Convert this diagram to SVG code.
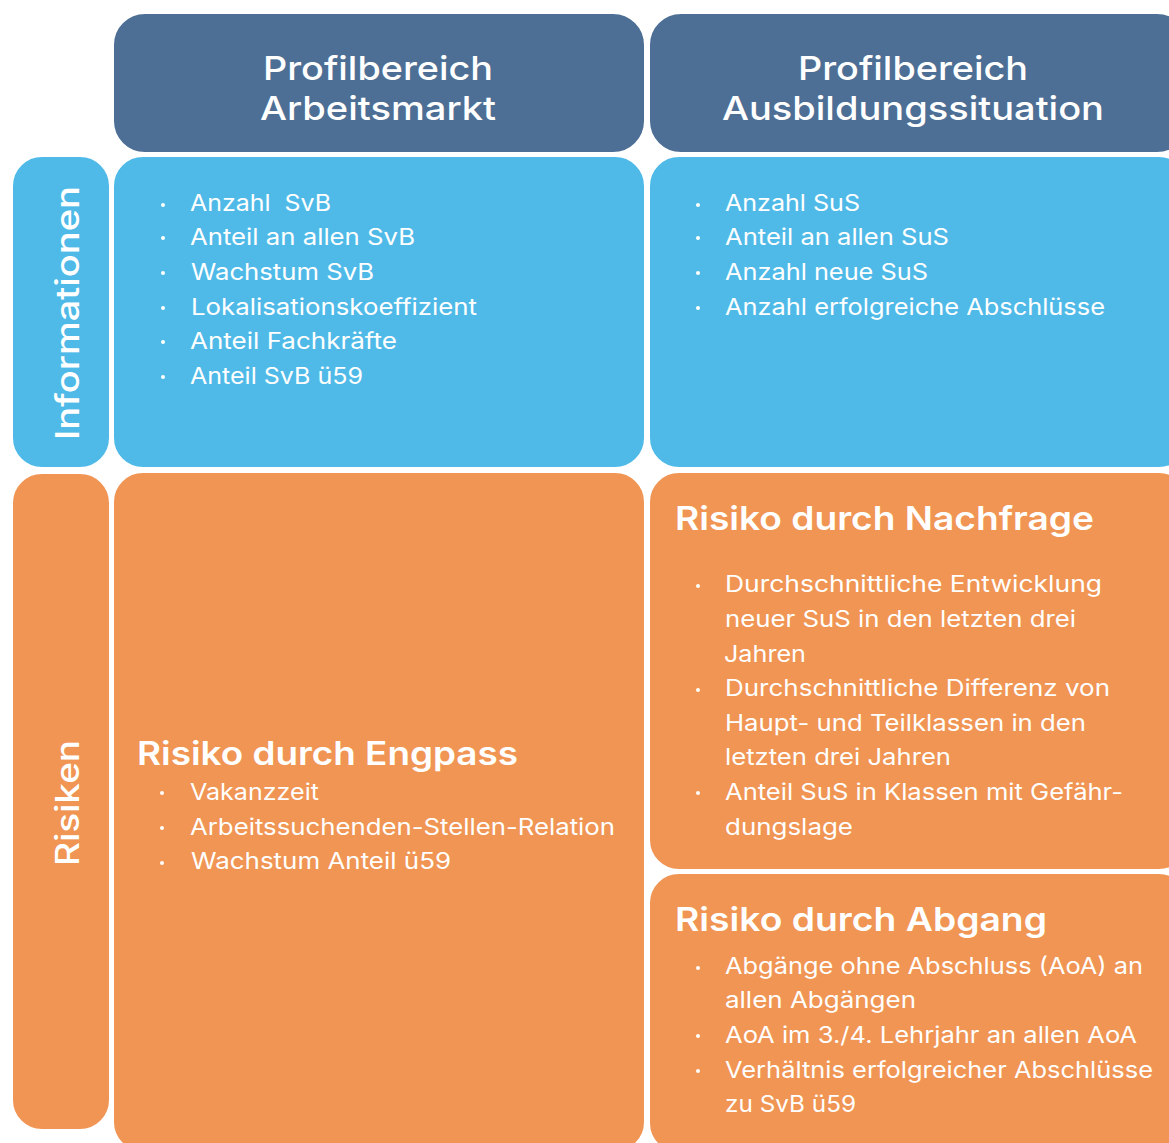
<svg xmlns="http://www.w3.org/2000/svg" width="1169" height="1143" viewBox="0 0 1169 1143">
  <style>
    .box { stroke: #ffffff; stroke-width: 2; }
    .head { fill: #4d6f95; }
    .info { fill: #4fbae8; }
    .risk { fill: #f09553; }
    text { fill: #ffffff; font-family: Inter, "DejaVu Sans", sans-serif; }
    .h { font-size: 33px; font-weight: 500; }
    .side { font-size: 32px; font-weight: 500; }
    .item { font-size: 22.5px; font-weight: 400; }
    .narrow { font-size: 22.5px; font-weight: 400; }
    .title { font-size: 32.5px; font-weight: 600; }
    .dot { fill: #ffffff; }
  </style>
  <rect width="1169" height="1143" fill="#ffffff"/>

  <!-- column headers -->
  <g id="head-arbeitsmarkt">
    <rect class="box head" x="113" y="13" width="532" height="140" rx="32"/>
    <text class="h" x="263" y="80" textLength="230" lengthAdjust="spacingAndGlyphs">Profilbereich</text>
    <text class="h" x="260" y="120" textLength="236" lengthAdjust="spacingAndGlyphs">Arbeitsmarkt</text>
  </g>
  <g id="head-ausbildung">
    <rect class="box head" x="649" y="13" width="540" height="140" rx="32"/>
    <text class="h" x="798" y="80" textLength="230" lengthAdjust="spacingAndGlyphs">Profilbereich</text>
    <text class="h" x="722" y="120" textLength="382" lengthAdjust="spacingAndGlyphs">Ausbildungssituation</text>
  </g>

  <!-- row labels -->
  <g id="row-informationen">
    <rect class="box info" x="12" y="156" width="98" height="312" rx="30"/>
    <text class="side" transform="translate(79 440) rotate(-90)" textLength="254" lengthAdjust="spacingAndGlyphs">Informationen</text>
  </g>
  <g id="row-risiken">
    <rect class="box risk" x="12" y="473" width="98" height="657" rx="30"/>
    <text class="side" transform="translate(79 866) rotate(-90)" textLength="126" lengthAdjust="spacingAndGlyphs">Risiken</text>
  </g>

  <!-- information cells -->
  <g id="info-arbeitsmarkt">
    <rect class="box info" x="113" y="156" width="532" height="312" rx="30"/>
    <g class="dot">
      <circle cx="163" cy="205" r="2"/><circle cx="163" cy="238" r="2"/><circle cx="163" cy="273" r="2"/>
      <circle cx="163" cy="308" r="2"/><circle cx="163" cy="342" r="2"/><circle cx="163" cy="377" r="2"/>
    </g>
    <text class="narrow" x="190" y="211" textLength="141" lengthAdjust="spacingAndGlyphs">Anzahl&#160; SvB</text>
    <text class="narrow" x="190" y="245" textLength="225" lengthAdjust="spacingAndGlyphs">Anteil an allen SvB</text>
    <text class="narrow" x="191" y="280" textLength="183" lengthAdjust="spacingAndGlyphs">Wachstum SvB</text>
    <text class="narrow" x="191" y="315" textLength="286" lengthAdjust="spacingAndGlyphs">Lokalisationskoeffizient</text>
    <text class="narrow" x="190" y="349" textLength="207" lengthAdjust="spacingAndGlyphs">Anteil Fachkräfte</text>
    <text class="narrow" x="190" y="384" textLength="173" lengthAdjust="spacingAndGlyphs">Anteil SvB ü59</text>
  </g>
  <g id="info-ausbildung">
    <rect class="box info" x="649" y="156" width="540" height="312" rx="30"/>
    <g class="dot">
      <circle cx="698" cy="205" r="2"/><circle cx="698" cy="238" r="2"/>
      <circle cx="698" cy="273" r="2"/><circle cx="698" cy="308" r="2"/>
    </g>
    <text class="item" x="725" y="211" textLength="135" lengthAdjust="spacingAndGlyphs">Anzahl SuS</text>
    <text class="item" x="725" y="245" textLength="224" lengthAdjust="spacingAndGlyphs">Anteil an allen SuS</text>
    <text class="item" x="725" y="280" textLength="203" lengthAdjust="spacingAndGlyphs">Anzahl neue SuS</text>
    <text class="item" x="725" y="315" textLength="380" lengthAdjust="spacingAndGlyphs">Anzahl erfolgreiche Abschlüsse</text>
  </g>

  <!-- risk cells -->
  <g id="risk-engpass">
    <rect class="box risk" x="113" y="472" width="532" height="680" rx="30"/>
    <text class="title" x="137" y="765" textLength="381" lengthAdjust="spacingAndGlyphs">Risiko durch Engpass</text>
    <g class="dot">
      <circle cx="162" cy="793" r="2"/><circle cx="162" cy="828" r="2"/><circle cx="162" cy="863" r="2"/>
    </g>
    <text class="item" x="190" y="800" textLength="129" lengthAdjust="spacingAndGlyphs">Vakanzzeit</text>
    <text class="item" x="190" y="835" textLength="425" lengthAdjust="spacingAndGlyphs">Arbeitssuchenden-Stellen-Relation</text>
    <text class="item" x="191" y="869" textLength="260" lengthAdjust="spacingAndGlyphs">Wachstum Anteil ü59</text>
  </g>
  <g id="risk-nachfrage">
    <rect class="box risk" x="649" y="472" width="540" height="398" rx="30"/>
    <text class="title" x="675" y="530" textLength="419" lengthAdjust="spacingAndGlyphs">Risiko durch Nachfrage</text>
    <g class="dot">
      <circle cx="698" cy="586" r="2"/><circle cx="698" cy="690" r="2"/><circle cx="698" cy="793" r="2"/>
    </g>
    <text class="item" x="725" y="592" textLength="377" lengthAdjust="spacingAndGlyphs">Durchschnittliche Entwicklung</text>
    <text class="item" x="725" y="627" textLength="351" lengthAdjust="spacingAndGlyphs">neuer SuS in den letzten drei</text>
    <text class="item" x="724" y="662" textLength="82" lengthAdjust="spacingAndGlyphs">Jahren</text>
    <text class="item" x="725" y="696" textLength="385" lengthAdjust="spacingAndGlyphs">Durchschnittliche Differenz von</text>
    <text class="item" x="725" y="731" textLength="361" lengthAdjust="spacingAndGlyphs">Haupt- und Teilklassen in den</text>
    <text class="item" x="725" y="765" textLength="226" lengthAdjust="spacingAndGlyphs">letzten drei Jahren</text>
    <text class="item" x="725" y="800" textLength="398" lengthAdjust="spacingAndGlyphs">Anteil SuS in Klassen mit Gefähr-</text>
    <text class="item" x="725" y="835" textLength="128" lengthAdjust="spacingAndGlyphs">dungslage</text>
  </g>
  <g id="risk-abgang">
    <rect class="box risk" x="649" y="873" width="540" height="280" rx="30"/>
    <text class="title" x="675" y="931" textLength="372" lengthAdjust="spacingAndGlyphs">Risiko durch Abgang</text>
    <g class="dot">
      <circle cx="698" cy="968" r="2"/><circle cx="698" cy="1036" r="2"/><circle cx="698" cy="1071" r="2"/>
    </g>
    <text class="item" x="725" y="974" textLength="418" lengthAdjust="spacingAndGlyphs">Abgänge ohne Abschluss (AoA) an</text>
    <text class="item" x="725" y="1008" textLength="191" lengthAdjust="spacingAndGlyphs">allen Abgängen</text>
    <text class="item" x="725" y="1043" textLength="412" lengthAdjust="spacingAndGlyphs">AoA im 3./4. Lehrjahr an allen AoA</text>
    <text class="item" x="725" y="1078" textLength="428" lengthAdjust="spacingAndGlyphs">Verhältnis erfolgreicher Abschlüsse</text>
    <text class="item" x="725" y="1112" textLength="131" lengthAdjust="spacingAndGlyphs">zu SvB ü59</text>
  </g>
</svg>
